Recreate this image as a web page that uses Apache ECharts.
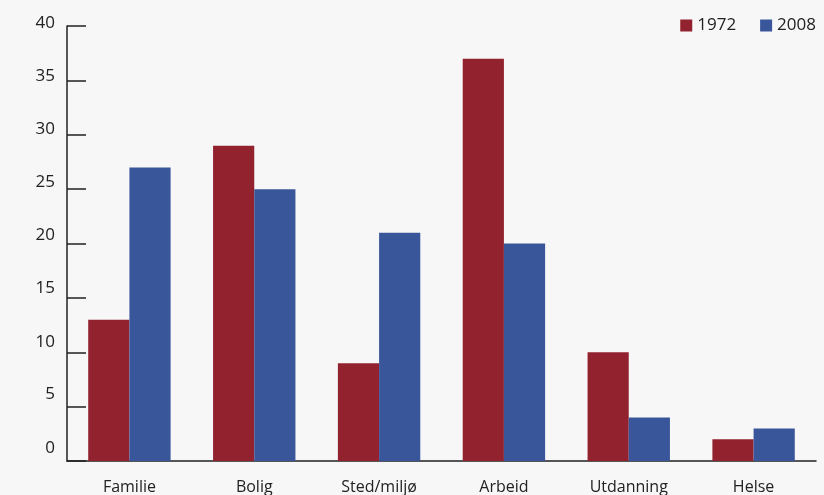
<!DOCTYPE html>
<html>
<head>
<meta charset="utf-8">
<script src="https://cdn.jsdelivr.net/npm/echarts@6/dist/echarts.min.js"></script>
<style>
html,body{margin:0;padding:0;background:#f7f7f7;}
#chart{width:824px;height:495px;}
</style>
</head>
<body>
<div id="chart"></div>
<script>
var categories = ['Familie', 'Bolig', 'Sted/miljø', 'Arbeid', 'Utdanning', 'Helse'];
var values1972 = [13, 29, 9, 37, 10, 2];
var values2008 = [27, 25, 21, 20, 4, 3];
var yTicks = [0, 5, 10, 15, 20, 25, 30, 35, 40];

var FONT = '"Open Sans", "Noto Sans", sans-serif';
var rich = {};
yTicks.forEach(function (v) {
  var off = 3 + (40 - v) * 0.25;
  rich['s' + v] = { padding: [0, 0, Math.round(off * 2), 0], fontSize: 17, color: '#222', fontFamily: FONT };
});

var chart = echarts.init(document.getElementById('chart'));
chart.setOption({
  backgroundColor: '#f7f7f7',
  animation: false,
  textStyle: { fontFamily: FONT },
  grid: { left: 67, right: 8, top: 26, bottom: 34, containLabel: false },
  legend: {
    right: 3, top: 12,
    itemWidth: 12, itemHeight: 12, itemGap: 24,
    icon: 'rect',
    textStyle: { fontSize: 17, color: '#222', fontFamily: FONT },
    data: ['1972', '2008']
  },
  xAxis: {
    type: 'category',
    data: categories,
    axisLine: { lineStyle: { color: '#222', width: 1.5 } },
    axisTick: { inside: true, length: 10, lineStyle: { color: '#222', width: 1.5 } },
    axisLabel: { fontSize: 16, color: '#222', margin: 18, fontFamily: FONT }
  },
  yAxis: {
    type: 'value',
    min: 0, max: 40, interval: 5,
    axisLine: { show: true, lineStyle: { color: '#222', width: 1.5 } },
    axisTick: { show: true, inside: true, length: 19, lineStyle: { color: '#222', width: 1.5 } },
    splitLine: { show: false },
    axisLabel: {
      margin: 12,
      formatter: function (v) { return '{s' + v + '|' + v + '}'; },
      rich: rich
    }
  },
  series: [
    { name: '1972', type: 'bar', data: values1972, itemStyle: { color: '#93222f' }, barGap: '0%', barCategoryGap: '34%' },
    { name: '2008', type: 'bar', data: values2008, itemStyle: { color: '#3a569a' }, barGap: '0%', barCategoryGap: '34%' }
  ]
});
</script>
</body>
</html>
